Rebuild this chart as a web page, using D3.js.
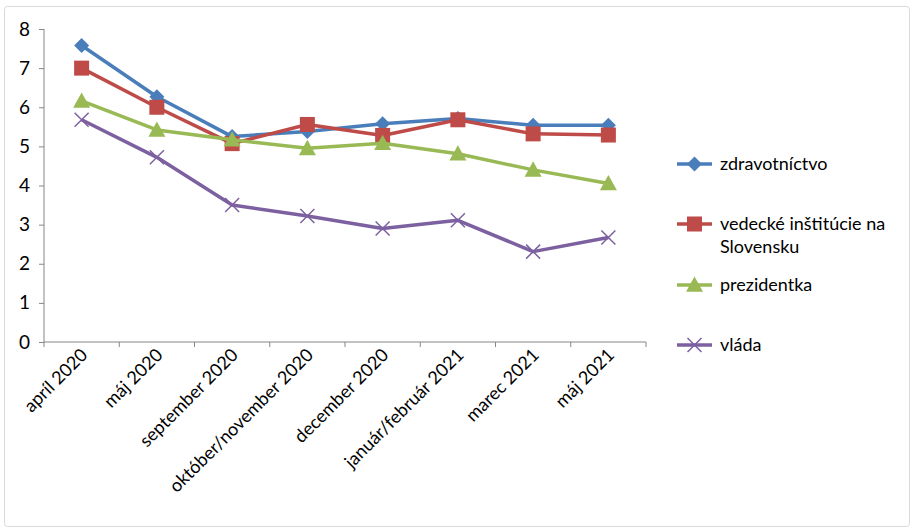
<!DOCTYPE html>
<html><head><meta charset="utf-8">
<script src="https://cdn.jsdelivr.net/npm/d3@7"></script>
<style>body{margin:0;background:#fff}svg{display:block}text{font-family:Lato,"Open Sans",sans-serif;fill:#000}</style>
</head><body><svg id="c" width="914" height="530"></svg>
<script>
const categories = ["apríl 2020","máj 2020","september 2020","október/november 2020","december 2020","január/február 2021","marec 2021","máj 2021"];
const zdravotnictvo = [7.58,6.27,5.25,5.38,5.58,5.71,5.54,5.54];
const vedecke = [7.0,6.0,5.07,5.56,5.28,5.68,5.32,5.29];
const prezidentka = [6.16,5.42,5.17,4.95,5.08,4.81,4.40,4.05];
const vlada = [5.68,4.72,3.50,3.22,2.90,3.11,2.31,2.67];
const yTicks = [0,1,2,3,4,5,6,7,8];
const seriesNames = ["zdravotníctvo","vedecké inštitúcie na|Slovensku","prezidentka","vláda"];
const seriesColors = ["#4A7EBB","#BE4B48","#98B954","#7D60A0"];
const seriesMarkers = ["diamond","square","triangle","cross"];

const series = [zdravotnictvo, vedecke, prezidentka, vlada];
const svg = d3.select("#c");
svg.append("rect").attr("x",4.5).attr("y",6.5).attr("width",905).attr("height",520).attr("rx",3)
  .attr("fill","#fff").attr("stroke","#D9D9D9");

const L=44, R=646, T=29, B=342;
const x = d3.scaleBand().domain(categories).range([L,R]);
const y = d3.scaleLinear().domain([0,8]).range([B,T]);

// y axis
const ya = svg.append("g").attr("transform",`translate(${L},0)`)
  .call(d3.axisLeft(y).tickValues(yTicks).tickSize(5).tickPadding(9).tickFormat(d3.format("d")));
ya.select(".domain").attr("stroke","#868686").attr("d",`M0,${T}V${B}`);
ya.selectAll(".tick line").attr("stroke","#868686");
ya.selectAll("text").attr("font-size",19).attr("font-family","Lato, sans-serif").attr("fill","#000");

// x axis
const xa = svg.append("g").attr("transform",`translate(0,${B})`)
  .call(d3.axisBottom(x).tickSize(0).tickFormat(""));
xa.select(".domain").attr("stroke","#868686").attr("d",`M${L},0H${R}`);
const bounds = categories.map((c,i)=>L+i*x.bandwidth()).concat([R]);
xa.selectAll(".bt").data(bounds).enter().append("line").attr("class","bt")
  .attr("x1",d=>d).attr("x2",d=>d).attr("y1",0).attr("y2",5).attr("stroke","#868686");
svg.append("g").selectAll("text").data(categories).enter().append("text")
  .attr("transform",d=>`translate(${x(d)+x.bandwidth()/2+7},${B+14}) rotate(-45)`)
  .attr("text-anchor","end").attr("font-size",18).text(d=>d);

function marker(g,type,color){
  if(type==="diamond"){ const s=7.5; g.append("path").attr("d",`M0,${-s}L${s},0L0,${s}L${-s},0Z`).attr("fill",color);}
  else if(type==="square"){ const s=7.5; g.append("rect").attr("x",-s).attr("y",-s).attr("width",2*s).attr("height",2*s).attr("fill",color);}
  else if(type==="triangle"){ const s=8.5; g.append("path").attr("d",`M0,${-s}L${s},${s*0.8}L${-s},${s*0.8}Z`).attr("fill",color);}
  else { const s=7; g.append("path").attr("d",`M${-s},${-s}L${s},${s}M${-s},${s}L${s},${-s}`).attr("stroke",color).attr("stroke-width",1.5);}
}

const line = d3.line().x((d,i)=>x(categories[i])+x.bandwidth()/2).y(d=>y(d));
series.forEach((s,k)=>{
  svg.append("path").datum(s).attr("d",line).attr("fill","none").attr("stroke",seriesColors[k])
    .attr("stroke-width",3.5).attr("stroke-linejoin","round");
  s.forEach((v,i)=>{
    const g=svg.append("g").attr("transform",`translate(${x(categories[i])+x.bandwidth()/2},${y(v)})`);
    marker(g,seriesMarkers[k],seriesColors[k]);
  });
});

// legend
const legY=[164,224,285,345];
seriesNames.forEach((n,k)=>{
  const g=svg.append("g").attr("transform",`translate(677,${legY[k]})`);
  g.append("line").attr("x1",0).attr("x2",35).attr("stroke",seriesColors[k]).attr("stroke-width",3.5);
  const m=g.append("g").attr("transform","translate(17.5,0)");
  marker(m,seriesMarkers[k],seriesColors[k]);
  const parts=n.split("|");
  parts.forEach((p,j)=>g.append("text").attr("x",43).attr("y",6+j*23).attr("font-size",18).text(p));
});
</script></body></html>
